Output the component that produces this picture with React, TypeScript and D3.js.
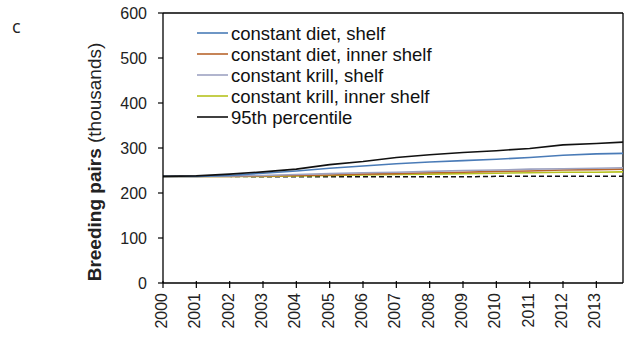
import React from "react";
import * as d3 from "d3";

const years = [2000, 2001, 2002, 2003, 2004, 2005, 2006, 2007, 2008, 2009, 2010, 2011, 2012, 2013, 2013.8];
const tickYears = [2000, 2001, 2002, 2003, 2004, 2005, 2006, 2007, 2008, 2009, 2010, 2011, 2012, 2013];
const yTicks = [0, 100, 200, 300, 400, 500, 600];

const dietShelf = [237, 237, 239, 244, 249, 255, 260, 265, 269, 272, 275, 279, 284, 287, 288];
const dietInner = [237, 237, 237, 238, 239, 240, 242, 243, 245, 246, 248, 249, 251, 252, 253];
const krillShelf = [237, 237, 238, 239, 241, 243, 245, 246, 248, 250, 251, 253, 254, 255, 256];
const krillInner = [237, 237, 237, 237, 238, 239, 240, 241, 242, 243, 244, 245, 246, 246, 247];
const pct95 = [237, 238, 242, 247, 253, 263, 270, 279, 285, 290, 294, 299, 307, 310, 313];
const pct5 = [237, 237, 237, 236, 236, 236, 236, 236, 236, 236, 237, 237, 237, 237, 237];

const seriesNames = [
  "constant diet, shelf",
  "constant diet, inner shelf",
  "constant krill, shelf",
  "constant krill, inner shelf",
  "95th percentile",
];
const seriesColors = ["#4a7bb7", "#b8652c", "#9ea3c2", "#b6c21e", "#111111"];

export default function App() {
  const left = 163, right = 623, top = 13, bottom = 283;
  const x = d3.scaleLinear().domain([2000, 2013.8]).range([left, right]);
  const y = d3.scaleLinear().domain([0, 600]).range([bottom, top]);
  const line = d3
    .line<number>()
    .x((_, i) => x(years[i]))
    .y((d) => y(d));

  const series = [krillInner, dietInner, krillShelf, dietShelf];
  const seriesCol = [seriesColors[3], seriesColors[1], seriesColors[2], seriesColors[0]];
  const font = "Arial, 'Liberation Sans', sans-serif";

  return (
    <svg
      width={627}
      height={338}
      style={{ position: "absolute", left: 0, top: 0, background: "#fff" }}
      fontFamily={font}
    >
      <text x={12} y={33} fontSize={18} fontFamily="'Open Sans', sans-serif" fill="#222">c</text>

      {/* frame */}
      <line x1={left} x2={right} y1={top} y2={top} stroke="#000" strokeWidth={1.3} />
      <line x1={right} x2={right} y1={top} y2={bottom} stroke="#000" strokeWidth={1.3} />

      {/* data lines */}
      <path d={line(pct5) || ""} fill="none" stroke="#111" strokeWidth={1.5} strokeDasharray="5,3" />
      {series.map((s, i) => (
        <path key={i} d={line(s) || ""} fill="none" stroke={seriesCol[i]} strokeWidth={1.6} />
      ))}
      <path d={line(pct95) || ""} fill="none" stroke="#111" strokeWidth={1.6} />

      {/* axes */}
      <line x1={left} x2={left} y1={top} y2={bottom} stroke="#000" strokeWidth={1.3} />
      <line x1={left} x2={right} y1={bottom} y2={bottom} stroke="#000" strokeWidth={1.3} />
      {yTicks.map((t) => (
        <g key={t}>
          <line x1={left - 5} x2={left} y1={y(t)} y2={y(t)} stroke="#000" strokeWidth={1.2} />
          <text x={left - 16} y={y(t) + 6} fontSize={16} textAnchor="end" fill="#222">
            {t}
          </text>
        </g>
      ))}
      {tickYears.map((t) => (
        <g key={t}>
          <line x1={x(t)} x2={x(t)} y1={bottom - 2} y2={bottom + 5} stroke="#000" strokeWidth={1.2} />
          <text
            transform={`translate(${x(t) + 4},${bottom + 10}) rotate(-90)`}
            fontSize={16}
            textAnchor="end"
            fill="#222"
          >
            {t}
          </text>
        </g>
      ))}

      {/* y title */}
      <text
        transform={`translate(101,162) rotate(-90)`}
        fontSize={19}
        textAnchor="middle"
        fill="#222"
      >
        <tspan fontWeight="bold">Breeding pairs</tspan>
        <tspan> (thousands)</tspan>
      </text>

      {/* legend */}
      {seriesNames.map((n, i) => (
        <g key={n}>
          <line x1={197} x2={228} y1={33 + i * 21} y2={33 + i * 21} stroke={seriesColors[i]} strokeWidth={1.6} />
          <text x={231} y={33 + i * 21 + 6.5} fontSize={18.5} fill="#111">
            {n}
          </text>
        </g>
      ))}
    </svg>
  );
}
